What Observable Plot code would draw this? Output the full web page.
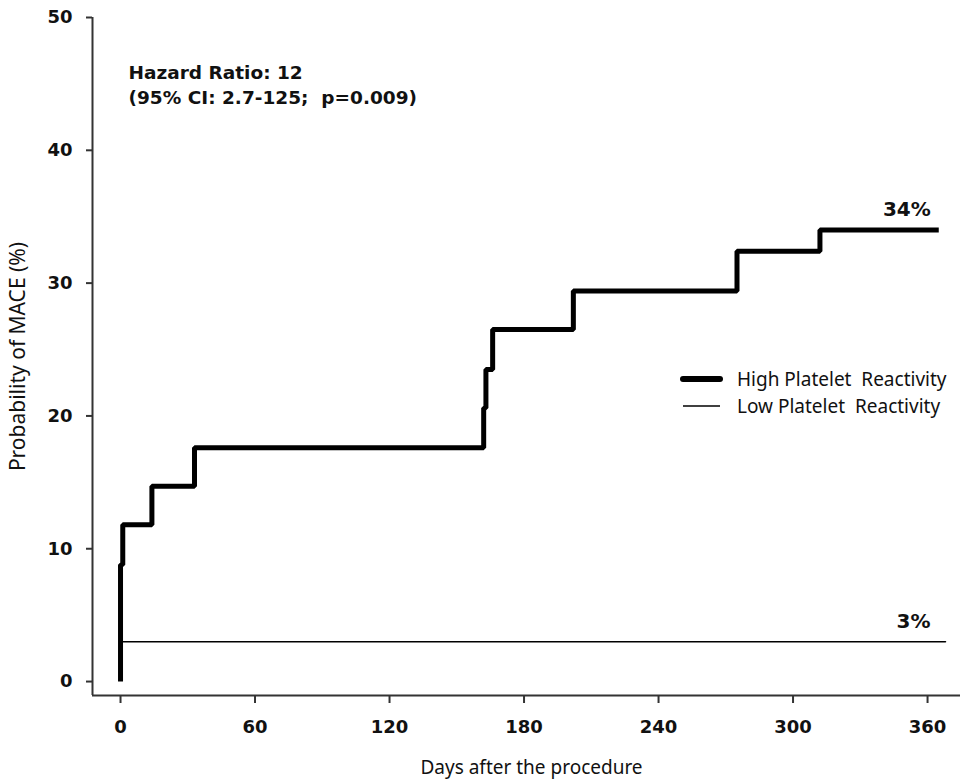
<!DOCTYPE html>
<html>
<head>
<meta charset="utf-8">
<script src="https://cdn.jsdelivr.net/npm/d3@7"></script>
<script src="https://cdn.jsdelivr.net/npm/@observablehq/plot@0.6"></script>
<style>
  html, body { margin: 0; padding: 0; background: #fff; }
  #chart svg text { white-space: pre; }
  g[aria-label="x-axis tick label"], g[aria-label="y-axis tick label"] { font-weight: bold; }
</style>
</head>
<body>
<div id="chart"></div>
<script>
// Kaplan–Meier cumulative MACE estimates (days after the procedure, %)
const highDays   = [0, 0, 0, 0, 1, 14, 33, 162, 163, 166, 202, 275, 312, 365];
const highValues = [0, 2.9, 5.9, 8.8, 11.8, 14.7, 17.6, 20.6, 23.5, 26.5, 29.4, 32.4, 34, 34];
const lowDays    = [0, 368];
const lowValues  = [3, 3];

const seriesNames = ["High Platelet  Reactivity", "Low Platelet  Reactivity"];
const xTicks = [0, 60, 120, 180, 240, 300, 360];
const yTicks = [0, 10, 20, 30, 40, 50];
const xTitle = "Days after the procedure";
const yTitle = "Probability of MACE (%)";
const statsLines = ["Hazard Ratio: 12", "(95% CI: 2.7-125;  p=0.009)"];

const xDomain = [-12.5, 374.7];
const yDomain = [-1.05, 50];

const high = highDays.map((d, i) => ({day: d, value: highValues[i]}));
const low  = lowDays.map((d, i) => ({day: d, value: lowValues[i]}));
const highEnd = high[high.length - 1];
const lowEnd  = low[low.length - 1];

const ink = "#111";
const sans = "'Noto Sans', 'DejaVu Sans', sans-serif";
const bold = "'DejaVu Sans', sans-serif";

const endLabel = (d) => `${d.value}%`;

const chart = Plot.plot({
  width: 960,
  height: 783,
  marginLeft: 92,
  marginRight: 0,
  marginTop: 17,
  marginBottom: 88,
  x: {domain: xDomain},
  y: {domain: yDomain},
  style: {fontFamily: bold, color: ink, background: "#fff"},
  marks: [
    // axis lines
    Plot.ruleX([xDomain[0]], {stroke: "#333", strokeWidth: 2}),
    Plot.ruleY([yDomain[0]], {stroke: "#333", strokeWidth: 2}),
    Plot.axisX({ticks: xTicks, tickSize: 8, tickPadding: 17, fontSize: 18, label: null, strokeWidth: 2, stroke: "#333"}),
    Plot.axisY({ticks: yTicks, tickSize: 6, tickPadding: 14, fontSize: 18, label: null, strokeWidth: 2, stroke: "#333"}),
    // axis titles
    Plot.text([xTitle], {frameAnchor: "bottom", textAnchor: "middle", dx: 5, dy: 78, fontFamily: sans, fontSize: 19, fill: ink}),
    Plot.text([yTitle], {frameAnchor: "left", textAnchor: "middle", rotate: -90, dx: -74, dy: 0, fontFamily: sans, fontSize: 21, fill: ink}),
    // survival curves
    Plot.line(low, {x: "day", y: "value", curve: "step-after", stroke: "#000", strokeWidth: 1.6}),
    Plot.line(high, {x: "day", y: "value", curve: "step-after", stroke: "#000", strokeWidth: 5, strokeLinejoin: "miter", strokeLinecap: "butt"}),
    // end-of-follow-up rates
    Plot.text([highEnd], {x: "day", y: "value", text: endLabel, textAnchor: "end", dx: -8, dy: -20,
      fontSize: 20, fontWeight: "bold", fill: ink}),
    Plot.text([lowEnd], {x: "day", y: "value", text: endLabel, textAnchor: "end", dx: -15, dy: -20,
      fontSize: 20, fontWeight: "bold", fill: ink}),
    // hazard ratio annotation
    Plot.text([statsLines.join("\n")], {frameAnchor: "top-left", textAnchor: "start", lineAnchor: "top",
      dx: 36, dy: 44, lineHeight: 1.35, fontSize: 18.5, fontWeight: "bold", fill: ink})
  ]
});

// legend inside the plotting area
const svg = d3.select(chart);
const legend = svg.append("g")
  .attr("transform", "translate(683,379)")
  .attr("font-family", sans)
  .attr("font-size", 19)
  .attr("text-anchor", "start")
  .attr("fill", ink);
seriesNames.forEach((name, i) => {
  const g = legend.append("g").attr("transform", `translate(0,${i * 27})`);
  g.append("line").attr("x1", 0).attr("x2", 37).attr("y1", 0).attr("y2", 0)
    .attr("stroke", "#000").attr("stroke-width", i === 0 ? 6 : 1.6)
    .attr("stroke-linecap", i === 0 ? "round" : "butt");
  g.append("text").attr("x", 54).attr("y", 0).attr("dy", "0.35em")
    .style("white-space", "pre").text(name);
});

document.getElementById("chart").append(chart);
</script>
</body>
</html>
